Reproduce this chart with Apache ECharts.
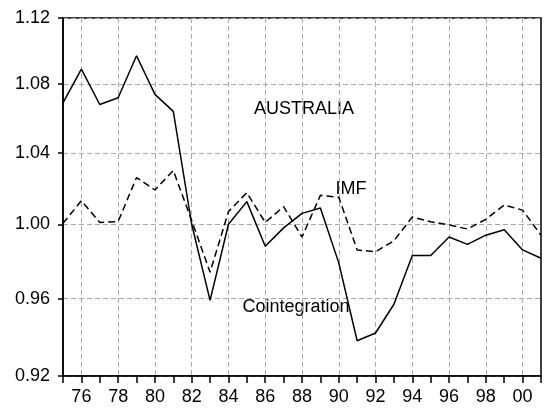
<!DOCTYPE html>
<html>
<head>
<meta charset="utf-8">
<script src="https://cdn.jsdelivr.net/npm/echarts@6/dist/echarts.min.js"></script>
<style>
  html, body { margin: 0; padding: 0; background: #fff; }
  #chart { width: 545px; height: 410px; }
</style>
</head>
<body>
<div id="chart"></div>
<script>
// years 1975..2001
const years = ['1975', '1976', '1977', '1978', '1979', '1980', '1981', '1982', '1983',
  '1984', '1985', '1986', '1987', '1988', '1989', '1990', '1991', '1992', '1993',
  '1994', '1995', '1996', '1997', '1998', '1999', '2000', '2001']

const cointegration = [1.069, 1.089, 1.068, 1.072, 1.097, 1.074, 1.064, 1.000, 0.959,
  1.000, 1.0125, 0.988, 0.998, 1.006, 1.009, 0.979, 0.938, 0.942, 0.957,
  0.983, 0.983, 0.993, 0.989, 0.994, 0.997, 0.986, 0.9815]

const imf = [1.0005, 1.013, 1.001, 1.0015, 1.026, 1.019, 1.030, 1.002, 0.974,
  1.007, 1.0175, 1.001, 1.0097, 0.993, 1.016, 1.015, 0.986, 0.985, 0.991,
  1.004, 1.0014, 0.9996, 0.9974, 1.0027, 1.0106, 1.0078, 0.994]

const yTicks = [0.92, 0.96, 1.00, 1.04, 1.08, 1.12]

const fontFamily = '"Liberation Sans", Arial, sans-serif'

// y axis is logarithmic: plot ln(value), label back with exp
const toLog = v => Math.log(v)

const chart = echarts.init(document.getElementById('chart'))

const option = {
  animation: false,
  backgroundColor: '#fff',
  grid: {
    left: 63,
    top: 18,
    width: 478,
    height: 358,
    show: true,
    borderColor: '#000',
    borderWidth: 1.5
  },
  xAxis: {
    type: 'category',
    data: years,
    boundaryGap: false,
    axisLine: { onZero: false, lineStyle: { color: '#000', width: 1.5 } },
    axisTick: {
      interval: 0,
      length: 7,
      lineStyle: { color: '#000', width: 1.5 }
    },
    axisLabel: {
      interval: (i) => i % 2 === 1,
      formatter: (v) => v.slice(2),
      color: '#000',
      fontSize: 18,
      fontFamily,
      margin: 12
    },
    splitLine: {
      show: true,
      interval: (i) => i % 2 === 1,
      lineStyle: { color: '#a8a8a8', type: [5, 3], width: 1 }
    }
  },
  yAxis: {
    type: 'value',
    min: toLog(0.92),
    max: toLog(1.12),
    axisLine: { show: true, lineStyle: { color: '#000', width: 1.5 } },
    axisTick: {
      show: true,
      length: 5,
      customValues: yTicks.map(toLog),
      lineStyle: { color: '#000', width: 1.5 }
    },
    axisLabel: {
      customValues: yTicks.map(toLog),
      formatter: (v) => Math.exp(v).toFixed(2),
      color: '#000',
      fontSize: 18,
      fontFamily,
      margin: 13,
      padding: [0, 0, 6, 0]
    },
    splitLine: {
      show: true,
      lineStyle: { color: '#a8a8a8', type: [5, 3], width: 1 }
    }
  },
  series: [
    {
      name: 'Cointegration',
      type: 'line',
      data: cointegration.map(toLog),
      symbol: 'none',
      lineStyle: { color: '#000', width: 1.5 }
    },
    {
      name: 'IMF',
      type: 'line',
      data: imf.map(toLog),
      symbol: 'none',
      lineStyle: { color: '#000', width: 1.5, type: [7, 4] }
    }
  ],
  graphic: [
    {
      type: 'text', x: 304, y: 109,
      style: { text: 'AUSTRALIA', font: '18px ' + fontFamily, fill: '#000', align: 'center', verticalAlign: 'middle' }
    },
    {
      type: 'text', x: 351, y: 189,
      style: { text: 'IMF', font: '18px ' + fontFamily, fill: '#000', align: 'center', verticalAlign: 'middle' }
    },
    {
      type: 'text', x: 296, y: 307,
      style: { text: 'Cointegration', font: '18px ' + fontFamily, fill: '#000', align: 'center', verticalAlign: 'middle' }
    }
  ]
}

chart.setOption(option)
</script>
</body>
</html>
